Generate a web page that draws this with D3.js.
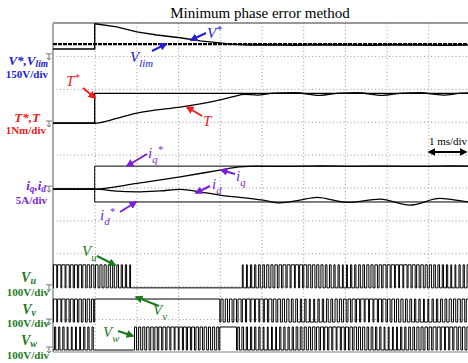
<!DOCTYPE html>
<html>
<head>
<meta charset="utf-8">
<script src="https://cdn.jsdelivr.net/npm/d3@7"></script>
<style>
  body { margin: 0; background: #fff; }
  text { font-family: "Liberation Serif", "Times New Roman", serif; }
</style>
</head>
<body>
<script>
const w = 468;
const h = 363;

// time in ms, 1 ms/div, 10 divisions
// channel V*, Vlim (V), 150 V/div
const vStarT = [0, 1.0, 1.0, 1.05, 1.53, 2.01, 2.49, 3.05, 3.53, 4.0, 4.32, 4.7, 5.2, 5.8, 6.4, 7.0, 7.6, 8.2, 8.8, 9.4, 10];
const vStarV = [36, 36, 150, 150, 137, 114, 100, 87, 73, 64, 57, 54, 55, 53, 55, 54, 53, 55, 54, 53, 54];
const vLimT = [0, 10];
const vLimV = [58, 58];

// channel T*, T (Nm), 1 Nm/div
const tStarT = [0, 1.0, 1.0, 10];
const tStarV = [0.03, 0.03, 0.93, 0.93];
const torqT = [0, 1.0, 1.13, 1.53, 2.01, 2.49, 3.05, 3.53, 4.0, 4.32, 4.6, 4.9, 5.3, 5.8, 6.4, 6.9, 7.3, 7.9, 8.4, 8.8, 9.35, 9.8, 10];
const torqV = [0.02, 0.02, 0.04, 0.17, 0.33, 0.43, 0.51, 0.61, 0.73, 0.83, 0.9, 0.88, 0.94, 0.95, 0.87, 0.94, 0.95, 0.87, 0.94, 0.95, 0.88, 0.94, 0.95];

// channel iq, id (A), 5 A/div
const iqStarT = [0, 1.0, 1.0, 10];
const iqStarV = [0, 0, 3.5, 3.5];
const idStarT = [0, 1.0, 1.0, 10];
const idStarV = [0, 0, -1.95, -1.95];
const iqT = [0, 1.0, 1.13, 2.01, 3.05, 4.0, 4.48, 4.9, 5.6, 6.4, 7.2, 8.0, 8.8, 9.5, 10];
const iqV = [0, 0, 0.05, 0.87, 1.87, 2.89, 3.39, 3.5, 3.45, 3.52, 3.47, 3.5, 3.45, 3.52, 3.5];
const idT = [0, 1.0, 1.13, 1.53, 2.01, 2.57, 3.05, 3.53, 4.0, 4.24, 4.48, 5.04, 5.44, 5.92, 6.33, 7.05, 7.84, 8.56, 9.28, 9.95, 10];
const idV = [0, 0, -0.05, -0.3, -0.41, -0.26, -0.05, -0.41, -0.91, -1.1, -1.25, -1.67, -2.08, -1.67, -1.26, -2.02, -1.52, -2.43, -1.41, -1.93, -1.95];

// phase voltages (V), 100 V/div, DC bus level
const vdc = 70;
// segment bounds, mode and duty of every 0.1 ms carrier period (digit = tenths)
const uSegT = [0, 1.9, 4.5, 10];
const uMode = ["pwm", "lo", "pwm"];
const uDuty = ["8888777766655544332", "", "2233445566778877665544332233445566778888776655443322334"];
const vSegT = [0, 1.0, 4.0, 10];
const vMode = ["pwm", "hi", "pwm"];
const vDuty = ["8887776665", "", "556677888877665544332233445566778888776655443322334455667"];
const wSegT = [0, 1.0, 1.93, 4.0, 4.4, 10];
const wMode = ["pwm", "lo", "pwm", "hi", "pwm"];
const wDuty = ["3332222333", "", "555666777888777666555", "", "44333322223333445566777887766554433222233445566778877665"];

const blue = "#2020d0", red = "#ee1c1c", purple = "#7a1fd8", green = "#1c7a1c";

const svg = d3.select("body").append("svg").attr("width", w).attr("height", h);

const x = d3.scaleLinear().domain([0, 10]).range([53, 470]);
const yDiv = d3.scaleLinear().domain([0, 10]).range([23, 352]);

function chan(ground, perDiv) {
  return d3.scaleLinear().domain([perDiv * (ground - 10), perDiv * ground]).range([352, 23]);
}
const yV = chan(1.03, 150);
const yT = chan(3.07, 1);
const yI = chan(5.05, 5);
const yU = chan(8.05, 100);
const yVv = chan(9.09, 100);
const yW = chan(9.94, 100);

// grid
const gx = svg.append("g").attr("transform", "translate(0,23)")
  .call(d3.axisBottom(x).tickValues(d3.range(1, 10)).tickSize(329).tickFormat(""));
const gy = svg.append("g").attr("transform", "translate(53,0)")
  .call(d3.axisRight(yDiv).tickValues(d3.range(1, 10)).tickSize(417).tickFormat(""));
[gx, gy].forEach(g => {
  g.select(".domain").remove();
  g.selectAll("line").attr("stroke", "#9a9a9a").attr("stroke-dasharray", "1,2.5");
});

// frame
svg.append("line").attr("x1", 53).attr("x2", w).attr("y1", 23).attr("y2", 23).attr("stroke", "#777").attr("stroke-width", 1.5);
svg.append("line").attr("x1", 53).attr("x2", w).attr("y1", 352).attr("y2", 352).attr("stroke", "#aaa").attr("stroke-width", 1.5);
svg.append("line").attr("x1", 53).attr("x2", 53).attr("y1", 23).attr("y2", 352).attr("stroke", "#aaa").attr("stroke-width", 2);

// title
svg.append("text").attr("x", 260).attr("y", 18).attr("text-anchor", "middle")
  .attr("font-size", 15).text("Minimum phase error method");

function trace(ts, vs, ys, opts) {
  const line = d3.line().x(d => x(d[0])).y(d => ys(d[1]));
  if (opts && opts.curve) line.curve(opts.curve);
  return svg.append("path").datum(d3.zip(ts, vs)).attr("d", line)
    .attr("fill", "none").attr("stroke", "#000")
    .attr("stroke-width", (opts && opts.sw) || 1.3)
    .attr("stroke-dasharray", (opts && opts.dash) || null);
}

trace(vLimT, vLimV, yV, {sw: 2.2, dash: "4,1"});
trace(vStarT, vStarV, yV, {sw: 1.4});
trace(tStarT, tStarV, yT, {sw: 1.3});
trace(torqT, torqV, yT, {sw: 1.3, curve: d3.curveMonotoneX});
trace(iqStarT, iqStarV, yI, {sw: 1});
trace(idStarT, idStarV, yI, {sw: 1});
trace(iqT, iqV, yI, {sw: 1.3, curve: d3.curveMonotoneX});
trace(idT, idV, yI, {sw: 1.3, curve: d3.curveMonotoneX});

// PWM pulse trains built from segment data
function pwmPoints(segT, modes, duties) {
  const pts = [];
  modes.forEach((m, i) => {
    const t0 = segT[i], t1 = segT[i + 1];
    if (m === "hi") { pts.push([t0, vdc]); return; }
    if (m === "lo") { pts.push([t0, 0]); return; }
    const str = duties[i];
    const p = (t1 - t0) / str.length;
    for (let k = 0; k < str.length; k++) {
      const d = +str[k] / 10;
      const c = t0 + (k + 0.5) * p;
      pts.push([t0 + k * p, 0]);
      if (d > 0) {
        pts.push([c - d * p / 2, vdc]);
        pts.push([c + d * p / 2, 0]);
      }
    }
  });
  pts.push([10, pts[pts.length - 1][1]]);
  return pts;
}

[[uSegT, uMode, uDuty, yU], [vSegT, vMode, vDuty, yVv], [wSegT, wMode, wDuty, yW]].forEach(c => {
  const pts = pwmPoints(c[0], c[1], c[2]);
  trace(pts.map(d => d[0]), pts.map(d => d[1]), c[3], {curve: d3.curveStepAfter, sw: 1});
});

// ground markers
[yV, yT, yI, yU, yVv, yW].forEach(s => {
  const yy = s(0);
  svg.append("path")
    .attr("d", `M46,${yy - 3}H52M49,${yy - 3}V${yy + 3}M47,${yy + 1}L49,${yy + 3}L51,${yy + 1}`)
    .attr("fill", "none").attr("stroke", "#777").attr("stroke-width", 1);
});

// arrow markers
const defs = svg.append("defs");
[["b", blue], ["r", red], ["p", purple], ["g", green], ["k", "#000"]].forEach(m => {
  defs.append("marker").attr("id", "ah" + m[0]).attr("viewBox", "0 0 10 10")
    .attr("refX", 8).attr("refY", 5).attr("markerWidth", 4).attr("markerHeight", 4)
    .attr("orient", "auto-start-reverse")
    .append("path").attr("d", "M0,0L10,5L0,10Z").attr("fill", m[1]);
});

function label(xx, yy, parts, color, size, opts) {
  const t = svg.append("text").attr("x", xx).attr("y", yy).attr("fill", color)
    .attr("font-size", size).attr("font-style", "italic")
    .attr("text-anchor", (opts && opts.anchor) || "start")
    .attr("font-weight", (opts && opts.bold) ? "bold" : "normal");
  const subK = (opts && opts.subK) || 0.3;
  let shift = 0;
  parts.forEach(p => {
    const s = t.append("tspan").text(p[0]);
    let target = 0;
    if (p[1] === "sub") { target = size * subK; s.attr("font-size", size * 0.72); }
    if (p[1] === "sup" || p[1] === "up") { target = -size * 0.35; s.attr("font-size", size * 0.72); }
    s.attr("dy", target - shift);
    shift = target;
  });
  return t;
}
function plain(xx, yy, str, color, size, bold) {
  svg.append("text").attr("x", xx).attr("y", yy).attr("fill", color)
    .attr("font-size", size).attr("font-weight", bold ? "bold" : "normal")
    .attr("text-anchor", "end").text(str);
}
function arrow(x1, y1, x2, y2, id) {
  svg.append("line").attr("x1", x1).attr("y1", y1).attr("x2", x2).attr("y2", y2)
    .attr("stroke", id === "k" ? "#000" : {b: blue, r: red, p: purple, g: green}[id])
    .attr("stroke-width", 2).attr("marker-end", "url(#ah" + id + ")");
}

// channel labels on the left
const lab = {bold: true, anchor: "end", subK: 0.15};
label(48, 65, [["V*,V", ""], ["lim", "sub"]], blue, 13, lab);
plain(48, 78, "150V/div", blue, 11, true);
label(40, 122, [["T*,T", ""]], red, 13, lab);
plain(46, 134, "1Nm/div", red, 11, true);
label(46, 190, [["i", ""], ["q", "sub"], [",i", ""], ["d", "sub"]], purple, 13, lab);
plain(47, 204, "5A/div", purple, 11, true);
label(36, 282, [["V", ""], ["u", "sub"]], green, 14, lab);
plain(49, 296, "100V/div", green, 11, true);
label(36, 314, [["V", ""], ["v", "sub"]], green, 14, lab);
plain(49, 327, "100V/div", green, 11, true);
label(37, 345, [["V", ""], ["w", "sub"]], green, 14, lab);
plain(49, 359, "100V/div", green, 11, true);

// trace annotations
label(207, 38, [["V", ""], ["*", "sup"]], blue, 15);
arrow(206, 33, 191, 40, "b");
label(130, 62, [["V", ""], ["lim", "sub"]], blue, 15);
arrow(152, 51, 166, 44, "b");
label(66, 86, [["T", ""], ["*", "sup"]], red, 15);
arrow(83, 88, 95, 98, "r");
label(203, 126, [["T", ""]], red, 15);
arrow(202, 116, 187, 107, "r");
label(148, 158, [["i", ""], ["q", "sub"], ["*", "up"]], purple, 15);
arrow(147, 154, 127, 166, "p");
label(100, 220, [["i", ""], ["d", "sub"], ["*", "up"]], purple, 15);
arrow(120, 212, 136, 202, "p");
label(212, 189, [["i", ""], ["d", "sub"]], purple, 15);
arrow(210, 186, 196, 193, "p");
label(236, 181, [["i", ""], ["q", "sub"]], purple, 15);
arrow(235, 174, 221, 170, "p");
label(82, 256, [["V", ""], ["u", "sub"]], green, 15);
arrow(97, 256, 115, 265, "g");
label(153, 315, [["V", ""], ["v", "sub"]], green, 15);
arrow(159, 306, 136, 297, "g");
label(103, 337, [["V", ""], ["w", "sub"]], green, 15);
arrow(118, 331, 133, 336, "g");

// time base
svg.append("text").attr("x", 448).attr("y", 145).attr("text-anchor", "middle")
  .attr("font-size", 11).text("1 ms/div");
svg.append("line").attr("x1", 429).attr("x2", 466).attr("y1", 152).attr("y2", 152)
  .attr("stroke", "#000").attr("stroke-width", 2)
  .attr("marker-start", "url(#ahk)").attr("marker-end", "url(#ahk)");
</script>
</body>
</html>
